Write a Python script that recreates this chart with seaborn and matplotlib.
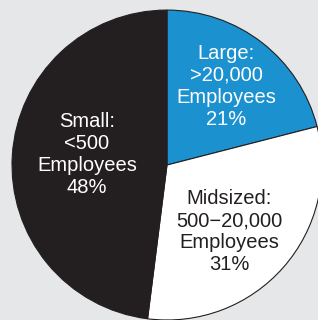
import matplotlib
matplotlib.use("Agg")
import matplotlib.pyplot as plt
import seaborn as sns

categories = ["Large", "Midsized", "Small"]
shares = [21, 31, 48]
labels = ["Large:\n>20,000\nEmployees\n21%",
          "Midsized:\n500\u221220,000\nEmployees\n31%",
          "Small:\n<500\nEmployees\n48%"]
colors = ["#1b91cf", "#ffffff", "#231f20"]
text_colors = ["white", "#231f20", "white"]
label_pos = [(0.381, 0.51), (0.40, -0.432), (-0.516, 0.071)]

sns.set_theme(style="white")
plt.rcParams["font.family"] = ["Liberation Sans", "DejaVu Sans"]

fig = plt.figure(figsize=(3.18, 3.20), dpi=100)
bg = "#e6e7e8"
fig.patch.set_facecolor(bg)
ax = fig.add_axes([0, 0, 1, 1])
ax.set_facecolor(bg)

ax.pie(shares, colors=colors, startangle=90, counterclock=False,
       radius=1.0, wedgeprops=dict(edgecolor="#231f20", linewidth=0.8))

for lab, (x, y), c in zip(labels, label_pos, text_colors):
    ax.text(x, y, lab, ha="center", va="center", color=c, fontsize=14.5,
            linespacing=1.2)

ax.set_xlim(-1.077, 0.974)
ax.set_ylim(-1.0, 1.065)
ax.set_aspect("equal")
ax.axis("off")

fig.savefig("out.png", dpi=100, facecolor=bg)
